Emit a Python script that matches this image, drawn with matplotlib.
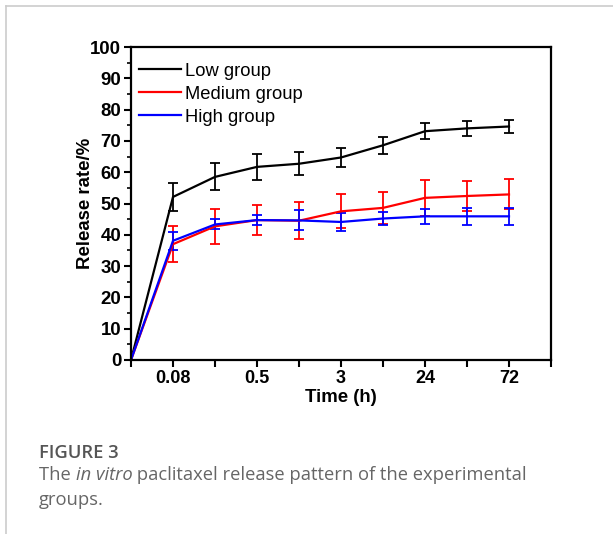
import numpy as np
import matplotlib
matplotlib.use("Agg")
import matplotlib.pyplot as plt
from matplotlib.lines import Line2D

# time points (h) -- only every other one is labelled on the axis
time_labels = ["", "0.08", "", "0.5", "", "3", "", "24", "", "72"]

low_mean = [0, 52.1, 58.5, 61.7, 62.7, 64.7, 68.6, 73.1, 74.0, 74.6]
low_err = [0, 4.6, 4.3, 4.1, 3.6, 2.9, 2.8, 2.5, 2.4, 2.1]

med_mean = [0, 37.0, 42.7, 44.7, 44.5, 47.5, 48.6, 51.8, 52.4, 52.9]
med_err = [0, 5.7, 5.7, 4.9, 6.0, 5.4, 5.0, 5.8, 4.8, 4.8]

high_mean = [0, 38.1, 43.3, 44.7, 44.6, 44.1, 45.2, 45.9, 45.9, 45.9]
high_err = [0, 2.9, 1.6, 1.7, 3.2, 3.0, 2.0, 2.4, 2.8, 2.8]

plt.rcParams['font.family'] = ['Liberation Sans', 'DejaVu Sans']

fig = plt.figure(figsize=(6.13, 5.34), dpi=100)
ax = fig.add_axes([131/613, 1-360/534, 420/613, 313/534])

x = np.arange(len(time_labels))
series = [("Low group", low_mean, low_err, "black"),
          ("Medium group", med_mean, med_err, "#ff0000"),
          ("High group", high_mean, high_err, "#0000ff")]
for name, m, e, c in series:
    ax.errorbar(x, m, yerr=e, color=c, lw=1.6, elinewidth=1.3,
                capsize=3.5, capthick=1.3, label=name)

ax.set_xlim(0, 10)
ax.set_ylim(0, 100)
ax.set_xticks(np.arange(11))
ax.set_xticklabels(time_labels + [""], fontsize=13, fontweight="bold")
ax.set_yticks(np.arange(0, 101, 10))
ax.set_yticks(np.arange(5, 100, 10), minor=True)
ax.tick_params(axis="y", labelsize=13.4)
for lab in ax.get_yticklabels():
    lab.set_fontweight("bold")
ax.tick_params(direction="out", length=5, width=1.5, pad=2)
ax.tick_params(which="minor", direction="out", length=3, width=1.2)
for s in ax.spines.values():
    s.set_linewidth(1.6)

ax.set_xlabel("Time (h)", fontsize=13.4, fontweight="bold", labelpad=2)
ax.set_ylabel("Release rate/%", fontsize=13.4, fontweight="bold", labelpad=-3)

handles = [Line2D([], [], color=c, lw=1.6) for _, _, _, c in series]
ax.legend(handles, [s[0] for s in series], loc="upper left",
          bbox_to_anchor=(-0.005, 0.982), frameon=False, fontsize=13.2,
          handlelength=2.3, handletextpad=0.2, labelspacing=0.33,
          borderaxespad=0.15)

# page frame and caption
fig.add_artist(Line2D([6/613, 1], [1-6/534, 1-6/534], color="#cccccc", lw=1.2))
fig.add_artist(Line2D([6/613, 6/613], [0, 1-6/534], color="#cccccc", lw=1.2))
cap_font = dict(fontsize=13.2, color="#666666", family="Open Sans")
fig.text(39/613, 1-458/534, "FIGURE 3", fontsize=13.2, color="#555555",
         family="Open Sans", fontweight="semibold")

renderer = fig.canvas.get_renderer()
pieces = [("The ", "normal"), ("in vitro", "italic"),
          (" paclitaxel release pattern of the experimental", "normal")]
xpos = 39
for txt, style in pieces:
    t = fig.text(xpos/613, 1-480/534, txt, style=style, **cap_font)
    xpos += t.get_window_extent(renderer).width
fig.text(39/613, 1-505/534, "groups.", **cap_font)

fig.savefig("out.png", dpi=100)
